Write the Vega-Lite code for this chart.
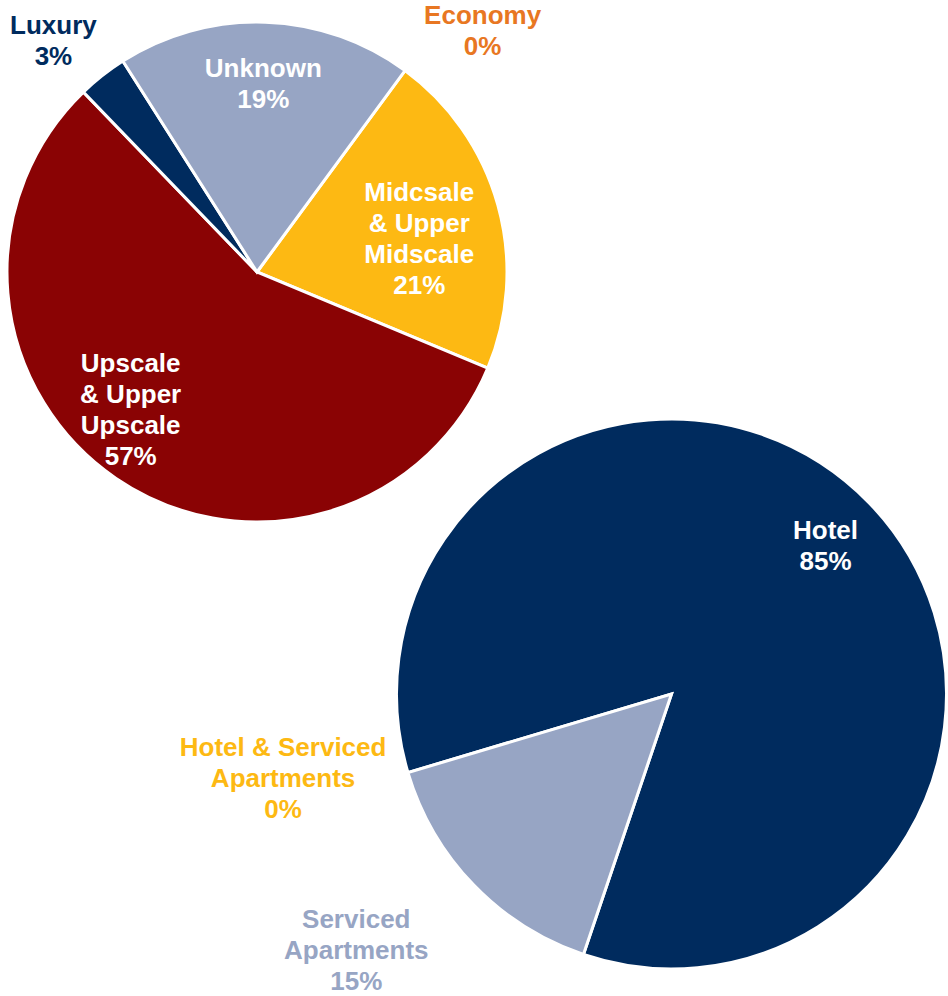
{
  "$schema": "https://vega.github.io/schema/vega-lite/v6.json",
  "width": 948,
  "height": 996,
  "autosize": "none",
  "padding": 0,
  "background": "white",
  "config": {
    "view": {"stroke": null},
    "text": {"font": "Liberation Sans", "fontWeight": "bold", "fontSize": 26, "lineBreak": "\n", "lineHeight": 31}
  },
  "data": {
    "values": [
      {"chart": "Class", "category": "Economy", "value": 0, "rank": 1, "label": "Economy\n0%"},
      {"chart": "Class", "category": "Midscale & Upper Midscale", "value": 21.2, "rank": 2, "label": "Midcsale\n& Upper\nMidscale\n21%"},
      {"chart": "Class", "category": "Upscale & Upper Upscale", "value": 56.5, "rank": 3, "label": "Upscale\n& Upper\nUpscale\n57%"},
      {"chart": "Class", "category": "Luxury", "value": 3.2, "rank": 4, "label": "Luxury\n3%"},
      {"chart": "Class", "category": "Unknown", "value": 19.1, "rank": 5, "label": "Unknown\n19%"},
      {"chart": "Type", "category": "Hotel & Serviced Apartments", "value": 0, "rank": 1, "label": "Hotel & Serviced\nApartments\n0%"},
      {"chart": "Type", "category": "Hotel", "value": 84.8, "rank": 2, "label": "Hotel\n85%"},
      {"chart": "Type", "category": "Serviced Apartments", "value": 15.2, "rank": 3, "label": "Serviced\nApartments\n15%"}
    ]
  },
  "resolve": {"scale": {"theta": "independent"}},
  "layer": [
    {
      "transform": [{"filter": "datum.chart === 'Class'"}],
      "encoding": {
        "x": {"field": "chart", "type": "nominal", "axis": null, "scale": {"type": "point", "domain": ["Class", "Type"], "range": [257, 671.5], "padding": 0}},
        "y": {"field": "chart", "type": "nominal", "axis": null, "scale": {"type": "point", "domain": ["Class", "Type"], "range": [272, 694], "padding": 0}},
        "theta": {"field": "value", "type": "quantitative", "stack": true, "scale": {"domain": [0, 100], "range": [0.6336, 6.9168]}},
        "order": {"field": "rank", "type": "quantitative"},
        "detail": {"field": "category", "type": "nominal"}
      },
      "layer": [
        {
          "mark": {"type": "arc", "outerRadius": 250, "stroke": "white", "strokeWidth": 3},
          "encoding": {
            "color": {"field": "category", "type": "nominal", "legend": null,
              "scale": {
                "domain": ["Economy", "Midscale & Upper Midscale", "Upscale & Upper Upscale", "Luxury", "Unknown", "Hotel & Serviced Apartments", "Hotel", "Serviced Apartments"],
                "range": ["#E87722", "#FDB913", "#8A0304", "#002B5E", "#97A5C4", "#FDB913", "#002B5E", "#97A5C4"]
              }}
          }
        },
        {
          "mark": {"type": "text", "radius": 188, "color": "white", "dy": -15.5},
          "encoding": {"text": {"condition": {"test": "datum.category === 'Unknown'", "field": "label", "type": "nominal"}, "value": ""}}
        },
        {
          "mark": {"type": "text", "radius": 185, "color": "white", "dx": -16, "dy": -29.5},
          "encoding": {"text": {"condition": {"test": "datum.category === 'Midscale & Upper Midscale'", "field": "label", "type": "nominal"}, "value": ""}}
        },
        {
          "mark": {"type": "text", "radius": 185, "color": "white", "dx": -22, "dy": -60.5},
          "encoding": {"text": {"condition": {"test": "datum.category === 'Upscale & Upper Upscale'", "field": "label", "type": "nominal"}, "value": ""}}
        },
        {
          "mark": {"type": "text", "radius": 300, "color": "#002B5E", "dx": -18, "dy": -10.5},
          "encoding": {"text": {"condition": {"test": "datum.category === 'Luxury'", "field": "label", "type": "nominal"}, "value": ""}}
        },
        {
          "mark": {"type": "text", "radius": 300, "color": "#E87722", "dx": 48, "dy": -14.5},
          "encoding": {"text": {"condition": {"test": "datum.category === 'Economy'", "field": "label", "type": "nominal"}, "value": ""}}
        }
      ]
    },
    {
      "transform": [{"filter": "datum.chart === 'Type'"}],
      "encoding": {
        "x": {"field": "chart", "type": "nominal", "axis": null, "scale": {"type": "point", "domain": ["Class", "Type"], "range": [257, 671.5], "padding": 0}},
        "y": {"field": "chart", "type": "nominal", "axis": null, "scale": {"type": "point", "domain": ["Class", "Type"], "range": [272, 694], "padding": 0}},
        "theta": {"field": "value", "type": "quantitative", "stack": true, "scale": {"domain": [0, 100], "range": [4.4226, 10.7058]}},
        "order": {"field": "rank", "type": "quantitative"},
        "detail": {"field": "category", "type": "nominal"}
      },
      "layer": [
        {
          "mark": {"type": "arc", "outerRadius": 275, "stroke": "white", "strokeWidth": 3},
          "encoding": {
            "color": {"field": "category", "type": "nominal", "legend": null}
          }
        },
        {
          "mark": {"type": "text", "radius": 214, "color": "white", "dy": -14.5},
          "encoding": {"text": {"condition": {"test": "datum.category === 'Hotel'", "field": "label", "type": "nominal"}, "value": ""}}
        },
        {
          "mark": {"type": "text", "radius": 406, "color": "#97A5C4", "dx": -23, "dy": -56},
          "encoding": {"text": {"condition": {"test": "datum.category === 'Serviced Apartments'", "field": "label", "type": "nominal"}, "value": ""}}
        },
        {
          "mark": {"type": "text", "radius": 398, "color": "#FDB913", "dx": -7, "dy": -59.5},
          "encoding": {"text": {"condition": {"test": "datum.category === 'Hotel & Serviced Apartments'", "field": "label", "type": "nominal"}, "value": ""}}
        }
      ]
    }
  ]
}
